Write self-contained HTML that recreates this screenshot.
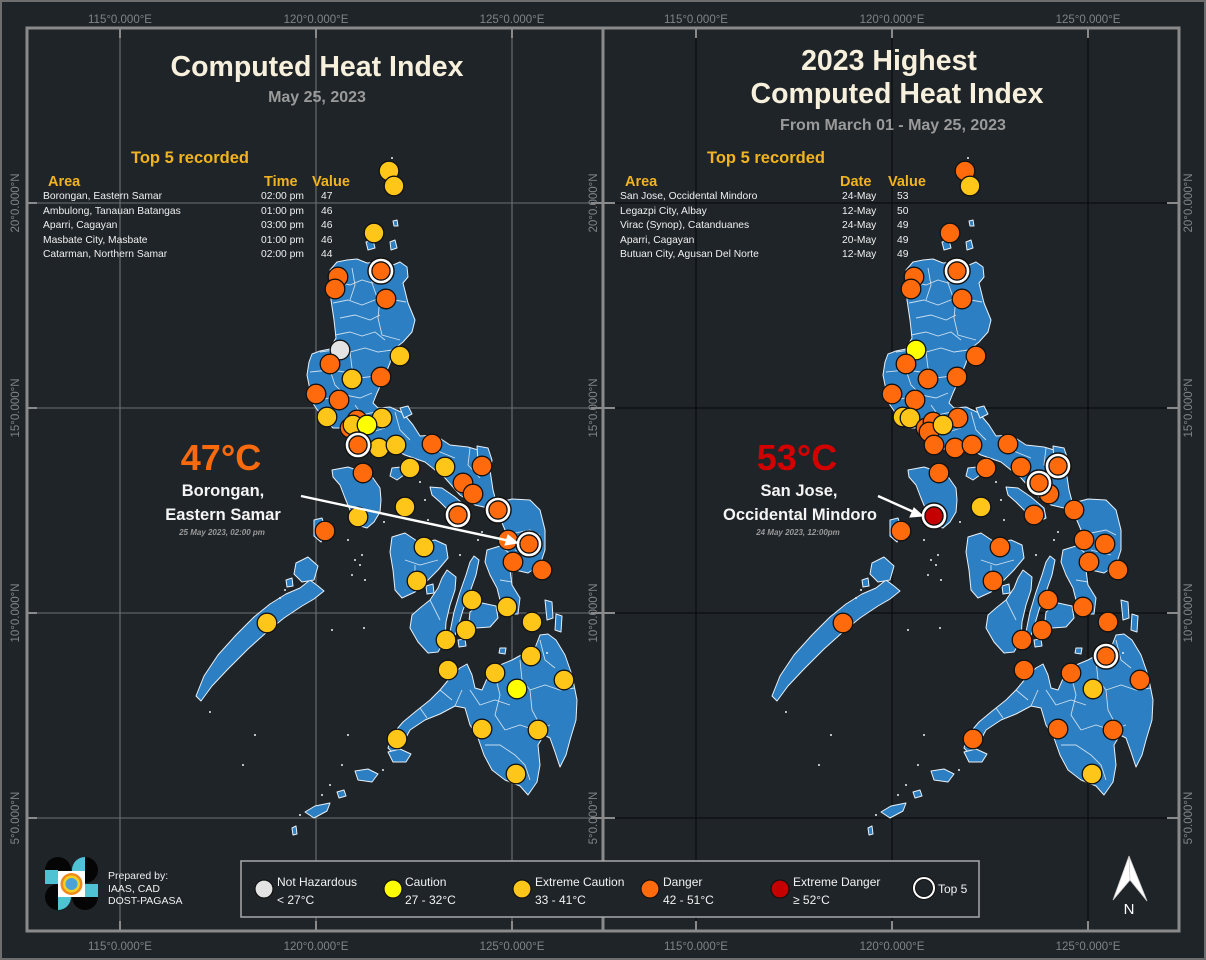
<!DOCTYPE html>
<html><head><meta charset="utf-8"><style>
html,body{margin:0;padding:0;background:#1f2428;}
svg{display:block;font-family:"Liberation Sans",Arial,sans-serif;}
</style></head><body>
<svg width="1206" height="960" viewBox="0 0 1206 960" xmlns="http://www.w3.org/2000/svg">
<defs>
<g id="map">
 <g fill="#2b7fc2" stroke="#e8f0f8" stroke-width="1" stroke-linejoin="round">
  <!-- Luzon -->
  <path d="M330,270 L337,262 L347,260 L357,259 L367,263 L380,262 L393,265 L400,262 L407,267 L408,277 L403,283 L408,303 L415,320 L412,332 L403,342 L393,350 L390,363 L383,380 L377,393 L373,403 L378,408 L390,407 L403,413 L413,425 L420,436 L435,435 L450,445 L468,447 L485,452 L490,470 L493,490 L497,505 L488,508 L475,505 L460,495 L445,478 L425,462 L405,455 L392,448 L372,450 L360,447 L350,440 L345,432 L340,428 L333,428 L323,418 L314,405 L310,390 L307,375 L309,362 L312,354 L320,351 L330,349 L336,338 L334,320 L331,300 L330,285 Z"/>
  <!-- Mindoro -->
  <path d="M332,470 L348,467 L363,472 L373,478 L380,488 L381,500 L380,512 L374,522 L367,528 L357,525 L350,510 L345,498 L340,485 L333,477 Z"/>
  <path d="M392,468 L401,467 L404,475 L397,480 L390,476 Z"/>
  <!-- Masbate -->
  <path d="M430,487 L442,488 L455,497 L468,508 L470,518 L462,522 L450,512 L440,502 L432,495 Z"/>
  <path d="M470,488 L478,490 L476,497 L469,495 Z"/>
  <!-- Catanduanes -->
  <path d="M477,446 L488,448 L492,460 L490,472 L482,474 L478,462 Z"/>
  <!-- Samar -->
  <path d="M497,503 L512,499 L530,500 L540,510 L545,530 L545,550 L540,565 L528,573 L515,570 L508,560 L503,545 L505,530 L500,518 Z"/>
  <!-- Leyte -->
  <path d="M487,550 L500,546 L508,552 L510,570 L512,585 L520,598 L518,614 L508,614 L500,600 L497,588 L490,575 L485,562 Z"/>
  <!-- Bohol -->
  <path d="M470,612 L482,603 L496,606 L498,618 L490,627 L476,628 L469,621 Z"/>
  <!-- Cebu -->
  <path d="M474,556 L479,560 L476,575 L470,592 L463,610 L458,627 L454,638 L450,632 L454,612 L460,592 L466,575 L470,562 Z"/>
  <!-- Negros -->
  <path d="M447,570 L456,577 L455,590 L450,605 L446,622 L445,640 L438,652 L428,653 L418,642 L410,628 L412,615 L420,608 L430,600 L438,588 L442,578 Z"/>
  <path d="M458,640 L465,639 L466,646 L459,647 Z"/>
  <!-- Panay -->
  <path d="M392,537 L405,533 L420,543 L435,540 L446,545 L448,558 L438,570 L428,580 L415,592 L402,598 L395,590 L393,570 L390,552 Z"/>
  <path d="M426,586 L433,584 L434,593 L427,594 Z"/>
  <!-- Palawan -->
  <path d="M318,586 L324,591 L314,599 L302,606 L284,618 L268,631 L248,649 L228,669 L212,686 L201,701 L196,696 L204,676 L218,655 L236,635 L254,617 L270,604 L286,594 L300,588 L310,580 Z"/>
  <path d="M296,563 L308,557 L318,566 L314,580 L302,582 L294,574 Z"/>
  <path d="M286,580 L292,578 L293,586 L287,587 Z"/>
  <path d="M314,520 L322,518 L326,530 L321,542 L314,536 Z"/>
  <!-- Mindanao -->
  <path d="M388,748 L392,735 L403,722 L415,712 L430,700 L440,690 L450,678 L460,668 L467,664 L472,675 L475,688 L482,690 L490,672 L500,665 L512,660 L523,654 L535,648 L540,635 L548,634 L556,640 L565,655 L572,675 L577,700 L576,720 L570,740 L566,755 L560,767 L555,752 L550,738 L544,735 L538,745 L540,765 L537,782 L528,795 L520,786 L505,780 L492,770 L484,755 L478,738 L470,725 L465,708 L455,706 L440,714 L425,720 L410,730 L402,745 L395,755 Z"/>
  <path d="M545,600 L552,602 L553,618 L547,620 Z"/>
  <path d="M556,614 L562,616 L561,632 L555,630 Z"/>
  <path d="M500,648 L506,648 L505,654 L499,653 Z"/>
  <!-- Sulu -->
  <path d="M388,752 L400,749 L411,754 L406,762 L393,762 Z"/>
  <path d="M355,771 L368,769 L378,774 L372,782 L358,780 Z"/>
  <path d="M305,812 L315,806 L330,803 L327,811 L314,818 Z"/>
  <path d="M337,792 L344,790 L346,796 L339,798 Z"/>
  <path d="M292,828 L296,826 L297,834 L293,835 Z"/>
  <!-- Babuyan / Batanes -->
  <path d="M366,242 L373,240 L375,248 L368,250 Z"/>
  <path d="M390,242 L395,240 L397,248 L391,250 Z"/>
  <path d="M393,221 L397,220 L398,226 L394,226 Z"/>
  <path d="M370,229 L373,228 L374,233 L371,233 Z"/>
  <!-- Polillo -->
  <path d="M400,408 L408,406 L412,414 L404,418 Z"/>
 </g>
 <g fill="#e8f0f8">
  <circle cx="392" cy="158" r="1"/><circle cx="348" cy="540" r="1"/><circle cx="355" cy="560" r="1"/><circle cx="352" cy="575" r="1"/>
  <circle cx="360" cy="565" r="1"/><circle cx="365" cy="580" r="1"/><circle cx="362" cy="555" r="1"/><circle cx="384" cy="522" r="1"/>
  <circle cx="420" cy="482" r="1"/><circle cx="425" cy="500" r="1"/><circle cx="428" cy="520" r="1"/><circle cx="460" cy="555" r="1"/>
  <circle cx="478" cy="540" r="1"/><circle cx="482" cy="532" r="1"/><circle cx="364" cy="628" r="1"/><circle cx="348" cy="735" r="1"/>
  <circle cx="342" cy="765" r="1"/><circle cx="330" cy="785" r="1"/><circle cx="322" cy="795" r="1"/><circle cx="383" cy="770" r="1"/>
  <circle cx="300" cy="815" r="1"/><circle cx="285" cy="590" r="1"/><circle cx="280" cy="598" r="1"/><circle cx="210" cy="712" r="1"/>
  <circle cx="255" cy="735" r="1"/><circle cx="243" cy="765" r="1"/><circle cx="332" cy="630" r="1"/><circle cx="547" cy="653" r="1"/>
 </g>
 <g fill="none" stroke="#dbe8f5" stroke-width="0.9" opacity="0.9">
  <path d="M337,282 L350,285 L362,280 L372,283 L383,280"/>
  <path d="M352,268 L355,285 L350,300"/>
  <path d="M370,263 L372,283 L378,300"/>
  <path d="M333,303 L348,300 L362,305 L380,298 L395,300 L406,302"/>
  <path d="M340,318 L355,315 L370,320 L380,315"/>
  <path d="M380,298 L378,318 L382,335 L400,340"/>
  <path d="M335,335 L350,332 L362,336 L375,332 L385,340"/>
  <path d="M320,352 L335,350 L350,352 L365,348 L378,352 L392,350"/>
  <path d="M350,352 L352,368 L360,378 L375,376"/>
  <path d="M310,372 L330,370 L345,372"/>
  <path d="M330,370 L335,385 L345,395 L360,398 L372,393"/>
  <path d="M318,400 L330,398 L340,405"/>
  <path d="M355,405 L362,415 L375,412"/>
  <path d="M345,430 L360,428 L372,432 L385,428"/>
  <path d="M395,412 L400,430 L410,440"/>
  <path d="M430,438 L440,452 L455,458"/>
  <path d="M470,448 L468,465 L480,478"/>
  <path d="M405,560 L420,565 L438,560 M415,565 L415,590"/>
  <path d="M430,600 L440,620"/>
  <path d="M500,580 L512,582"/>
  <path d="M505,535 L530,530 L540,535 M515,550 L535,555"/>
  <path d="M440,690 L452,700"/>
  <path d="M470,690 L480,705 L495,700 L510,705"/>
  <path d="M495,675 L500,695 L495,715 L505,730"/>
  <path d="M520,660 L522,680 L530,690 L545,685 L560,690 L575,688"/>
  <path d="M540,640 L545,660 L555,668"/>
  <path d="M505,730 L520,725 L535,730 L550,725"/>
  <path d="M485,745 L500,745 L515,755 L525,765 L530,780"/>
  <path d="M530,690 L532,710 L540,725"/>
  <path d="M455,706 L462,690 M420,708 L427,718"/>
 </g>
</g>
</defs>

<!-- outer border -->
<rect x="1" y="1" width="1204" height="958" fill="#1f2428" stroke="#6e6e6e" stroke-width="2"/>

<!-- left grid -->
<g stroke="#6a7075" stroke-width="1.1">
 <line x1="120" y1="28" x2="120" y2="931"/><line x1="316" y1="28" x2="316" y2="931"/><line x1="512" y1="28" x2="512" y2="931"/>
 <line x1="27" y1="203" x2="603" y2="203"/><line x1="27" y1="408" x2="603" y2="408"/><line x1="27" y1="613" x2="603" y2="613"/><line x1="27" y1="818" x2="603" y2="818"/>
</g>
<!-- right grid -->
<g stroke="#0b0d0f" stroke-width="1.2">
 <line x1="696" y1="28" x2="696" y2="931"/><line x1="892" y1="28" x2="892" y2="931"/><line x1="1088" y1="28" x2="1088" y2="931"/>
 <line x1="603" y1="203" x2="1179" y2="203"/><line x1="603" y1="408" x2="1179" y2="408"/><line x1="603" y1="613" x2="1179" y2="613"/><line x1="603" y1="818" x2="1179" y2="818"/>
</g>

<use href="#map"/>
<use href="#map" transform="translate(576,0)"/>

<!-- ticks -->
<g stroke="#8a8a8a" stroke-width="2">
 <path d="M120,28v10M316,28v10M512,28v10M696,28v10M892,28v10M1088,28v10"/>
 <path d="M120,931v-10M316,931v-10M512,931v-10M696,931v-10M892,931v-10M1088,931v-10"/>
 <path d="M27,203h10M27,408h10M27,613h10M27,818h10M603,203h12M603,408h12M603,613h12M603,818h12"/>
 <path d="M1179,203h-12M1179,408h-12M1179,613h-12M1179,818h-12M603,203h-12M603,408h-12M603,613h-12M603,818h-12"/>
</g>
<!-- frames -->
<rect x="27" y="28" width="576" height="903" fill="none" stroke="#8a8a8a" stroke-width="3"/>
<rect x="603" y="28" width="576" height="903" fill="none" stroke="#8a8a8a" stroke-width="3"/>

<!-- tick labels -->
<g fill="#7e8489" font-size="11.5" text-anchor="middle">
 <text x="120" y="23">115°0.000°E</text><text x="316" y="23">120°0.000°E</text><text x="512" y="23">125°0.000°E</text>
 <text x="696" y="23">115°0.000°E</text><text x="892" y="23">120°0.000°E</text><text x="1088" y="23">125°0.000°E</text>
 <text x="120" y="950">115°0.000°E</text><text x="316" y="950">120°0.000°E</text><text x="512" y="950">125°0.000°E</text>
 <text x="696" y="950">115°0.000°E</text><text x="892" y="950">120°0.000°E</text><text x="1088" y="950">125°0.000°E</text>
 <text transform="translate(19,203) rotate(-90)">20°0.000°N</text>
 <text transform="translate(19,408) rotate(-90)">15°0.000°N</text>
 <text transform="translate(19,613) rotate(-90)">10°0.000°N</text>
 <text transform="translate(19,818) rotate(-90)">5°0.000°N</text>
 <text transform="translate(597,203) rotate(-90)">20°0.000°N</text>
 <text transform="translate(597,408) rotate(-90)">15°0.000°N</text>
 <text transform="translate(597,613) rotate(-90)">10°0.000°N</text>
 <text transform="translate(597,818) rotate(-90)">5°0.000°N</text>
 <text transform="translate(1192,203) rotate(-90)">20°0.000°N</text>
 <text transform="translate(1192,408) rotate(-90)">15°0.000°N</text>
 <text transform="translate(1192,613) rotate(-90)">10°0.000°N</text>
 <text transform="translate(1192,818) rotate(-90)">5°0.000°N</text>
</g>

<!-- titles -->
<g font-weight="bold" text-anchor="middle">
 <text x="317" y="76" font-size="28.5" fill="#f7f0dc">Computed Heat Index</text>
 <text x="317" y="102" font-size="16" fill="#9a9a9a">May 25, 2023</text>
 <text x="889" y="70" font-size="28.5" fill="#f7f0dc">2023 Highest</text>
 <text x="897" y="103" font-size="28.5" fill="#f7f0dc">Computed Heat Index</text>
 <text x="893" y="130" font-size="16" fill="#9a9a9a">From March 01 - May 25, 2023</text>
</g>

<!-- tables -->
<g font-weight="bold" fill="#f2b320">
 <text x="131" y="163" font-size="16.5">Top 5 recorded</text>
 <text x="48" y="186" font-size="14.5">Area</text>
 <text x="264" y="186" font-size="14.5">Time</text>
 <text x="312" y="186" font-size="14.5">Value</text>
 <text x="707" y="163" font-size="16.5">Top 5 recorded</text>
 <text x="625" y="186" font-size="14.5">Area</text>
 <text x="840" y="186" font-size="14.5">Date</text>
 <text x="888" y="186" font-size="14.5">Value</text>
</g>
<g fill="#f0f0f0" font-size="10.3">
 <text x="43" y="199">Borongan, Eastern Samar</text><text x="261" y="199">02:00 pm</text><text x="321" y="199">47</text>
 <text x="43" y="214">Ambulong, Tanauan Batangas</text><text x="261" y="214">01:00 pm</text><text x="321" y="214">46</text>
 <text x="43" y="228">Aparri, Cagayan</text><text x="261" y="228">03:00 pm</text><text x="321" y="228">46</text>
 <text x="43" y="243">Masbate City, Masbate</text><text x="261" y="243">01:00 pm</text><text x="321" y="243">46</text>
 <text x="43" y="257">Catarman, Northern Samar</text><text x="261" y="257">02:00 pm</text><text x="321" y="257">44</text>
 <text x="620" y="199">San Jose, Occidental Mindoro</text><text x="842" y="199">24-May</text><text x="897" y="199">53</text>
 <text x="620" y="214">Legazpi City, Albay</text><text x="842" y="214">12-May</text><text x="897" y="214">50</text>
 <text x="620" y="228">Virac (Synop), Catanduanes</text><text x="842" y="228">24-May</text><text x="897" y="228">49</text>
 <text x="620" y="243">Aparri, Cagayan</text><text x="842" y="243">20-May</text><text x="897" y="243">49</text>
 <text x="620" y="257">Butuan City, Agusan Del Norte</text><text x="842" y="257">12-May</text><text x="897" y="257">49</text>
</g>

<!-- circles left -->
<g stroke="#111" stroke-width="1.3">
 <g fill="#ffc61a">
  <circle cx="389" cy="171" r="9.8"/><circle cx="394" cy="186" r="9.8"/><circle cx="374" cy="233" r="9.8"/>
 </g>
 <circle cx="338" cy="277" r="9.8" fill="#ff6a0d"/><circle cx="335" cy="289" r="9.8" fill="#ff6a0d"/><circle cx="386" cy="299" r="9.8" fill="#ff6a0d"/>
 <circle cx="340" cy="350" r="9.8" fill="#e3e3e3"/><circle cx="400" cy="356" r="9.8" fill="#ffc61a"/>
 <circle cx="330" cy="364" r="9.8" fill="#ff6a0d"/><circle cx="352" cy="379" r="9.8" fill="#ffc61a"/><circle cx="381" cy="377" r="9.8" fill="#ff6a0d"/>
 <circle cx="316" cy="394" r="9.8" fill="#ff6a0d"/><circle cx="339" cy="400" r="9.8" fill="#ff6a0d"/>
 <circle cx="327" cy="417" r="9.8" fill="#ffc61a"/><circle cx="382" cy="418" r="9.8" fill="#ffc61a"/>
 <circle cx="357" cy="420" r="9.8" fill="#ff6a0d"/><circle cx="350" cy="428" r="9.8" fill="#ff6a0d"/>
 <circle cx="353" cy="425" r="9.8" fill="#ffc61a"/><circle cx="367" cy="425" r="9.8" fill="#ffff00"/>
 <circle cx="379" cy="448" r="9.8" fill="#ffc61a"/><circle cx="396" cy="445" r="9.8" fill="#ffc61a"/><circle cx="432" cy="444" r="9.8" fill="#ff6a0d"/>
 <circle cx="410" cy="468" r="9.8" fill="#ffc61a"/><circle cx="445" cy="467" r="9.8" fill="#ffc61a"/><circle cx="482" cy="466" r="9.8" fill="#ff6a0d"/>
 <circle cx="363" cy="473" r="9.8" fill="#ff6a0d"/><circle cx="463" cy="483" r="9.8" fill="#ff6a0d"/><circle cx="473" cy="494" r="9.8" fill="#ff6a0d"/>
 <circle cx="358" cy="517" r="9.8" fill="#ffc61a"/><circle cx="405" cy="507" r="9.8" fill="#ffc61a"/><circle cx="325" cy="531" r="9.8" fill="#ff6a0d"/>
 <circle cx="508" cy="540" r="9.8" fill="#ff6a0d"/><circle cx="513" cy="562" r="9.8" fill="#ff6a0d"/><circle cx="542" cy="570" r="9.8" fill="#ff6a0d"/>
 <g fill="#ffc61a">
  <circle cx="424" cy="547" r="9.8"/><circle cx="417" cy="581" r="9.8"/><circle cx="472" cy="600" r="9.8"/><circle cx="507" cy="607" r="9.8"/>
  <circle cx="532" cy="622" r="9.8"/><circle cx="466" cy="630" r="9.8"/><circle cx="446" cy="640" r="9.8"/><circle cx="267" cy="623" r="9.8"/>
  <circle cx="448" cy="670" r="9.8"/><circle cx="495" cy="673" r="9.8"/><circle cx="531" cy="656" r="9.8"/><circle cx="564" cy="680" r="9.8"/>
  <circle cx="397" cy="739" r="9.8"/><circle cx="482" cy="729" r="9.8"/><circle cx="538" cy="730" r="9.8"/><circle cx="516" cy="774" r="9.8"/>
 </g>
 <circle cx="517" cy="689" r="9.8" fill="#ffff00"/>
</g>
<!-- top5 left -->
<g>
 <g fill="none" stroke="#111" stroke-width="5.5"><circle cx="381" cy="271" r="11"/><circle cx="358" cy="445" r="11"/><circle cx="458" cy="515" r="11"/><circle cx="498" cy="510" r="11"/><circle cx="529" cy="544" r="11"/></g>
 <g fill="none" stroke="#fff" stroke-width="2.6"><circle cx="381" cy="271" r="11"/><circle cx="358" cy="445" r="11"/><circle cx="458" cy="515" r="11"/><circle cx="498" cy="510" r="11"/><circle cx="529" cy="544" r="11"/></g>
 <g fill="#ff6a0d" stroke="#111" stroke-width="1.2"><circle cx="381" cy="271" r="9"/><circle cx="358" cy="445" r="9"/><circle cx="458" cy="515" r="9"/><circle cx="498" cy="510" r="9"/><circle cx="529" cy="544" r="9"/></g>
</g>

<!-- circles right -->
<g stroke="#111" stroke-width="1.3">
 <circle cx="965" cy="171" r="9.8" fill="#ff6a0d"/><circle cx="970" cy="186" r="9.8" fill="#ffc61a"/><circle cx="950" cy="233" r="9.8" fill="#ff6a0d"/>
 <circle cx="914" cy="277" r="9.8" fill="#ff6a0d"/><circle cx="911" cy="289" r="9.8" fill="#ff6a0d"/><circle cx="962" cy="299" r="9.8" fill="#ff6a0d"/>
 <circle cx="916" cy="350" r="9.8" fill="#ffff00"/><circle cx="976" cy="356" r="9.8" fill="#ff6a0d"/>
 <circle cx="906" cy="364" r="9.8" fill="#ff6a0d"/><circle cx="928" cy="379" r="9.8" fill="#ff6a0d"/><circle cx="957" cy="377" r="9.8" fill="#ff6a0d"/>
 <circle cx="892" cy="394" r="9.8" fill="#ff6a0d"/><circle cx="915" cy="400" r="9.8" fill="#ff6a0d"/>
 <circle cx="903" cy="417" r="9.8" fill="#ffc61a"/><circle cx="910" cy="418" r="9.8" fill="#ffc61a"/><circle cx="958" cy="418" r="9.8" fill="#ff6a0d"/>
 <circle cx="926" cy="428" r="9.8" fill="#ff6a0d"/><circle cx="933" cy="422" r="9.8" fill="#ff6a0d"/><circle cx="929" cy="432" r="9.8" fill="#ff6a0d"/>
 <circle cx="943" cy="425" r="9.8" fill="#ffc61a"/>
 <circle cx="934" cy="445" r="9.8" fill="#ff6a0d"/><circle cx="955" cy="448" r="9.8" fill="#ff6a0d"/><circle cx="972" cy="445" r="9.8" fill="#ff6a0d"/><circle cx="1008" cy="444" r="9.8" fill="#ff6a0d"/>
 <circle cx="986" cy="468" r="9.8" fill="#ff6a0d"/><circle cx="1021" cy="467" r="9.8" fill="#ff6a0d"/><circle cx="939" cy="473" r="9.8" fill="#ff6a0d"/>
 <circle cx="1049" cy="494" r="9.8" fill="#ff6a0d"/>
 <circle cx="981" cy="507" r="9.8" fill="#ffc61a"/><circle cx="901" cy="531" r="9.8" fill="#ff6a0d"/>
 <g fill="#ff6a0d">
  <circle cx="1034" cy="515" r="9.8"/><circle cx="1074" cy="510" r="9.8"/><circle cx="1084" cy="540" r="9.8"/><circle cx="1105" cy="544" r="9.8"/>
  <circle cx="1089" cy="562" r="9.8"/><circle cx="1118" cy="570" r="9.8"/><circle cx="1000" cy="547" r="9.8"/><circle cx="993" cy="581" r="9.8"/>
  <circle cx="1048" cy="600" r="9.8"/><circle cx="1083" cy="607" r="9.8"/><circle cx="1108" cy="622" r="9.8"/><circle cx="1042" cy="630" r="9.8"/>
  <circle cx="1022" cy="640" r="9.8"/><circle cx="843" cy="623" r="9.8"/><circle cx="1024" cy="670" r="9.8"/><circle cx="1071" cy="673" r="9.8"/>
  <circle cx="1140" cy="680" r="9.8"/><circle cx="973" cy="739" r="9.8"/><circle cx="1058" cy="729" r="9.8"/><circle cx="1113" cy="730" r="9.8"/>
 </g>
 <circle cx="1093" cy="689" r="9.8" fill="#ffc61a"/><circle cx="1092" cy="774" r="9.8" fill="#ffc61a"/>
</g>
<!-- top5 right -->
<g>
 <g fill="none" stroke="#111" stroke-width="5.5"><circle cx="957" cy="271" r="11"/><circle cx="1058" cy="466" r="11"/><circle cx="1039" cy="483" r="11"/><circle cx="934" cy="516" r="11"/><circle cx="1106" cy="656" r="11"/></g>
 <g fill="none" stroke="#fff" stroke-width="2.6"><circle cx="957" cy="271" r="11"/><circle cx="1058" cy="466" r="11"/><circle cx="1039" cy="483" r="11"/><circle cx="934" cy="516" r="11"/><circle cx="1106" cy="656" r="11"/></g>
 <g fill="#ff6a0d" stroke="#111" stroke-width="1.2"><circle cx="957" cy="271" r="9"/><circle cx="1058" cy="466" r="9"/><circle cx="1039" cy="483" r="9"/><circle cx="1106" cy="656" r="9"/></g>
 <circle cx="934" cy="516" r="9" fill="#c40000" stroke="#111" stroke-width="1.2"/>
</g>

<!-- callouts -->
<g font-weight="bold" text-anchor="middle">
 <text x="221" y="470" font-size="36" fill="#f96a0e">47°C</text>
 <text x="223" y="496" font-size="16.5" fill="#f4f4f4">Borongan,</text>
 <text x="223" y="520" font-size="16.5" fill="#f4f4f4">Eastern Samar</text>
 <text x="222" y="535" font-size="8" font-style="italic" fill="#9a9a9a">25 May 2023, 02:00 pm</text>
 <text x="797" y="470" font-size="36" fill="#d40000">53°C</text>
 <text x="799" y="496" font-size="16.5" fill="#f4f4f4">San Jose,</text>
 <text x="800" y="520" font-size="16.5" fill="#f4f4f4">Occidental Mindoro</text>
 <text x="798" y="535" font-size="8" font-style="italic" fill="#9a9a9a">24 May 2023, 12:00pm</text>
</g>
<!-- arrows -->
<g stroke="#fff" stroke-width="2.4" fill="#fff">
 <line x1="301" y1="496" x2="510" y2="541"/>
 <polygon points="518,543 505,545 508,535" stroke-width="1"/>
 <line x1="878" y1="496" x2="916" y2="513"/>
 <polygon points="923,516 910,517 914,508" stroke-width="1"/>
</g>

<!-- legend -->
<rect x="241" y="861" width="738" height="56" fill="#1f2428" stroke="#a8a8a8" stroke-width="1.5"/>
<g stroke="#111" stroke-width="1.2">
 <circle cx="264" cy="889" r="9" fill="#e3e3e3"/>
 <circle cx="393" cy="889" r="9" fill="#ffff00"/>
 <circle cx="522" cy="889" r="9" fill="#ffc61a"/>
 <circle cx="650" cy="889" r="9" fill="#ff6a0d"/>
 <circle cx="780" cy="889" r="9" fill="#c40000"/>
</g>
<circle cx="924" cy="888" r="10" fill="none" stroke="#111" stroke-width="4"/>
<circle cx="924" cy="888" r="10" fill="none" stroke="#fff" stroke-width="2"/>
<g fill="#f2f2f2" font-size="12">
 <text x="277" y="886">Not Hazardous</text><text x="277" y="904">&lt; 27°C</text>
 <text x="405" y="886">Caution</text><text x="405" y="904">27 - 32°C</text>
 <text x="535" y="886">Extreme Caution</text><text x="535" y="904">33 - 41°C</text>
 <text x="663" y="886">Danger</text><text x="663" y="904">42 - 51°C</text>
 <text x="793" y="886">Extreme Danger</text><text x="793" y="904">≥ 52°C</text>
 <text x="938" y="893">Top 5</text>
</g>

<!-- logo -->
<g>
 <circle cx="58" cy="870" r="13" fill="#050505"/>
 <path d="M85,857 A13,13 0 0 0 85,883 Z" fill="#4fc3d3"/>
 <path d="M85,857 A13,13 0 0 1 85,883 Z" fill="#050505"/>
 <circle cx="58" cy="897" r="13" fill="#050505"/>
 <path d="M58,897 L71,897 A13,13 0 0 1 58,910 Z" fill="#4fc3d3"/>
 <circle cx="85" cy="897" r="13" fill="#050505"/>
 <rect x="45" y="870" width="13" height="14" fill="#4fc3d3"/>
 <rect x="85" y="884" width="13" height="13" fill="#4fc3d3"/>
 <rect x="58" y="871" width="27" height="26" fill="#fff"/>
 <circle cx="71.5" cy="884" r="11" fill="#f08a1c"/>
 <circle cx="71.5" cy="884" r="8.5" fill="#f5d020"/>
 <circle cx="71.5" cy="884" r="6" fill="#4aa3d8"/>
</g>
<g fill="#f0f0f0" font-size="10.5">
 <text x="108" y="879">Prepared by:</text>
 <text x="108" y="892">IAAS, CAD</text>
 <text x="108" y="904">DOST-PAGASA</text>
</g>

<!-- north arrow -->
<g>
 <polygon points="1129,856 1113,900 1130,880" fill="#ffffff" stroke="#cfcfcf" stroke-width="0.8"/>
 <polygon points="1129,856 1130,880 1147,901" fill="#ffffff" stroke="#cfcfcf" stroke-width="0.8"/>
 <text x="1129" y="914" font-size="15" fill="#ffffff" text-anchor="middle">N</text>
</g>
</svg>
</body></html>
